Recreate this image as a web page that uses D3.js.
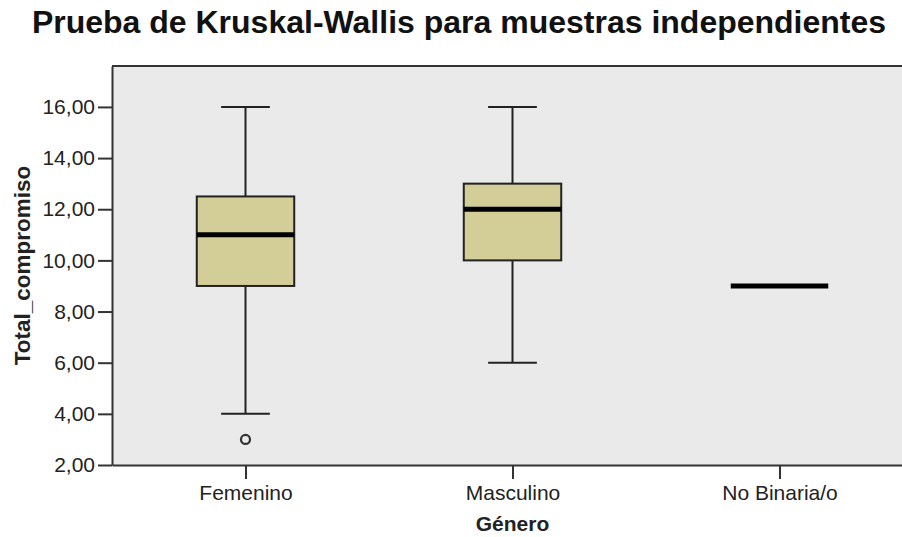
<!DOCTYPE html>
<html>
<head>
<meta charset="utf-8">
<script src="https://cdn.jsdelivr.net/npm/d3@7"></script>
<style>
  body { margin: 0; background: #fff; }
  svg { display: block; font-family: "Liberation Sans", Arial, sans-serif; }
</style>
</head>
<body>
<svg width="902" height="537"></svg>
<script>
// data
const categories = ["Femenino", "Masculino", "No Binaria/o"];
const q1 = [9, 10, 9];
const medians = [11, 12, 9];
const q3 = [12.5, 13, 9];
const whiskerLow = [4, 6, 9];
const whiskerHigh = [16, 16, 9];
const outlierCategory = ["Femenino"];
const outlierValue = [3];
const yTicks = [2, 4, 6, 8, 10, 12, 14, 16];

const svg = d3.select("svg");
const plotLeft = 112, plotTop = 66, plotBottom = 465, plotRight = 913;

const y = d3.scaleLinear().domain([2, 17.6]).range([plotBottom, plotTop]);
const x = d3.scalePoint().domain(categories).range([plotLeft, plotRight]).padding(0.5);
const boxW = x.step() * 0.365;
const capW = boxW / 2;

// plot background
svg.append("rect")
    .attr("x", plotLeft).attr("y", plotTop)
    .attr("width", 902 - plotLeft).attr("height", plotBottom - plotTop)
    .attr("fill", "#eaeaea");

svg.append("line")
    .attr("x1", plotLeft).attr("x2", 902)
    .attr("y1", plotTop).attr("y2", plotTop)
    .attr("stroke", "#333").attr("stroke-width", 2);

const fmt = d => d3.format(".2f")(d).replace(".", ",");

const yAxis = svg.append("g")
    .attr("transform", "translate(" + plotLeft + ",0)")
    .call(d3.axisLeft(y).tickValues(yTicks).tickFormat(fmt).tickSize(14).tickSizeOuter(0).tickPadding(3));

const xAxis = svg.append("g")
    .attr("transform", "translate(0," + plotBottom + ")")
    .call(d3.axisBottom(x).tickSize(14).tickSizeOuter(0).tickPadding(5));

[yAxis, xAxis].forEach(function(g) {
    g.select(".domain").attr("stroke", "#333").attr("stroke-width", 2);
    g.selectAll(".tick line").attr("stroke", "#333").attr("stroke-width", 2);
    g.selectAll(".tick text").attr("fill", "#222").style("font-size", "21px");
});
xAxis.selectAll(".tick text").attr("dy", "0.72em").attr("y", 20);

// boxes
const g = svg.append("g");
categories.forEach(function(c, i) {
    const cx = x(c);
    if (whiskerHigh[i] > q3[i]) {
        g.append("line")
            .attr("x1", cx).attr("x2", cx)
            .attr("y1", y(q3[i])).attr("y2", y(whiskerHigh[i]))
            .attr("stroke", "#222").attr("stroke-width", 2);
        g.append("line")
            .attr("x1", cx - capW / 2).attr("x2", cx + capW / 2)
            .attr("y1", y(whiskerHigh[i])).attr("y2", y(whiskerHigh[i]))
            .attr("stroke", "#222").attr("stroke-width", 2);
    }
    if (whiskerLow[i] < q1[i]) {
        g.append("line")
            .attr("x1", cx).attr("x2", cx)
            .attr("y1", y(q1[i])).attr("y2", y(whiskerLow[i]))
            .attr("stroke", "#222").attr("stroke-width", 2);
        g.append("line")
            .attr("x1", cx - capW / 2).attr("x2", cx + capW / 2)
            .attr("y1", y(whiskerLow[i])).attr("y2", y(whiskerLow[i]))
            .attr("stroke", "#222").attr("stroke-width", 2);
    }
    if (q3[i] > q1[i]) {
        g.append("rect")
            .attr("x", cx - boxW / 2).attr("y", y(q3[i]))
            .attr("width", boxW).attr("height", y(q1[i]) - y(q3[i]))
            .attr("fill", "#d3ce97").attr("stroke", "#222").attr("stroke-width", 2);
    }
    g.append("line")
        .attr("x1", cx - boxW / 2).attr("x2", cx + boxW / 2)
        .attr("y1", y(medians[i])).attr("y2", y(medians[i]))
        .attr("stroke", "#000").attr("stroke-width", 5);
});

outlierCategory.forEach(function(c, i) {
    g.append("circle")
        .attr("cx", x(c)).attr("cy", y(outlierValue[i]))
        .attr("r", 4.5)
        .attr("fill", "none").attr("stroke", "#333").attr("stroke-width", 2.2);
});

// titles
svg.append("text")
    .attr("x", 459).attr("y", 33)
    .attr("text-anchor", "middle")
    .style("font-size", "32px").style("font-weight", "bold")
    .attr("fill", "#111")
    .text("Prueba de Kruskal-Wallis para muestras independientes");

svg.append("text")
    .attr("x", x("Masculino")).attr("y", 531)
    .attr("text-anchor", "middle")
    .style("font-size", "21px").style("font-weight", "bold")
    .attr("fill", "#222")
    .text("Género");

svg.append("text")
    .attr("transform", "translate(30," + ((plotTop + plotBottom) / 2) + ") rotate(-90)")
    .attr("text-anchor", "middle")
    .style("font-size", "22.5px").style("font-weight", "bold")
    .attr("fill", "#222")
    .text("Total_compromiso");
</script>
</body>
</html>
